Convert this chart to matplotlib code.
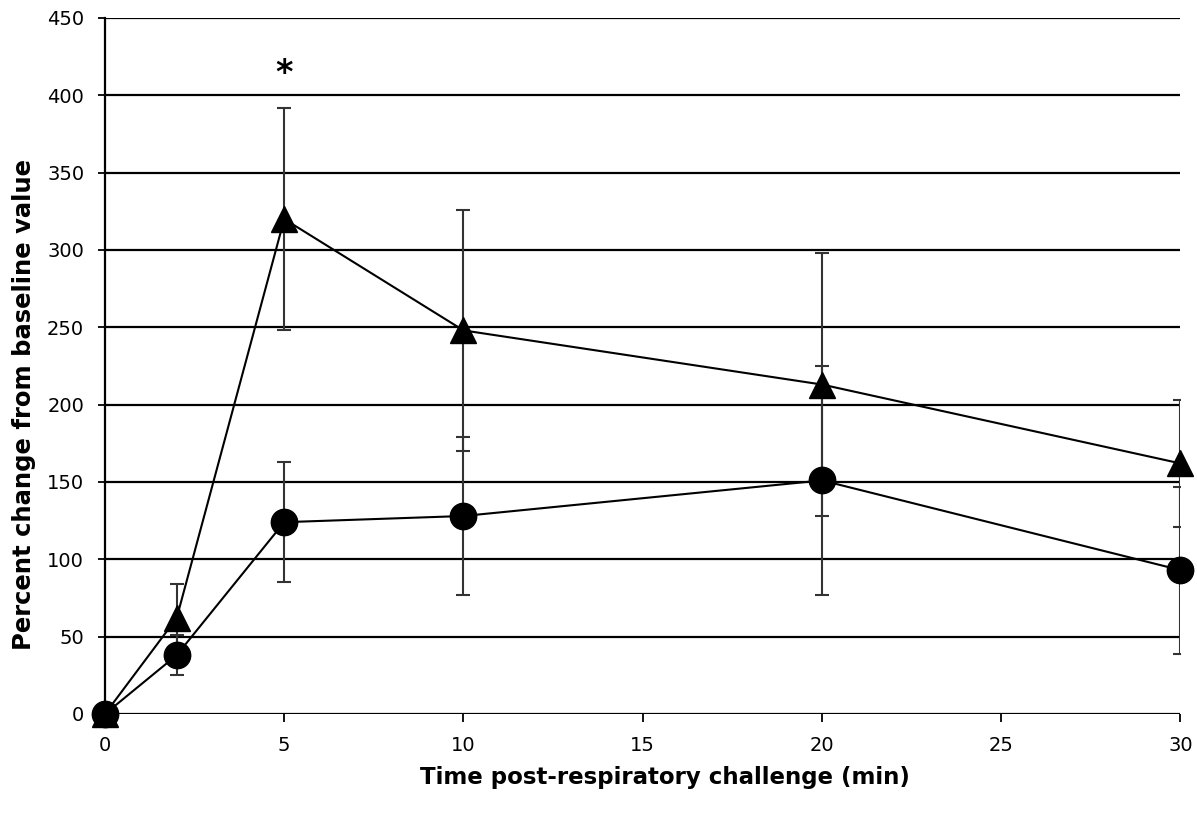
import numpy as np
import matplotlib
matplotlib.use("Agg")
import matplotlib.pyplot as plt

# data
time_min = [0, 2, 5, 10, 20, 30]
tri_mean = [0, 62, 320, 248, 213, 162]
tri_err = [0, 22, 72, 78, 85, 41]
circ_mean = [0, 38, 124, 128, 151, 93]
circ_err = [0, 13, 39, 51, 74, 54]
y_ticks = list(range(0, 451, 50))
x_ticks = [0, 5, 10, 15, 20, 25, 30]

fig = plt.figure(figsize=(11.97, 8.14), dpi=100)
ax = fig.add_axes([0.0877, 0.1229, 0.8985, 0.855])

for y in y_ticks:
    ax.axhline(y, color='black', lw=1.6, zorder=0)

ax.errorbar(time_min, tri_mean, yerr=tri_err, fmt='none', ecolor='#333333',
            elinewidth=1.5, capsize=5, capthick=1.5, zorder=2)
ax.errorbar(time_min, circ_mean, yerr=circ_err, fmt='none', ecolor='#333333',
            elinewidth=1.5, capsize=5, capthick=1.5, zorder=2)
ax.plot(time_min, tri_mean, color='black', lw=1.5, marker='^', ms=19,
        mfc='black', mec='black', zorder=3, clip_on=False)
ax.plot(time_min, circ_mean, color='black', lw=1.5, marker='o', ms=19,
        mfc='black', mec='black', zorder=3, clip_on=False)

ax.text(5, 414, '*', ha='center', va='center', fontsize=24, fontweight='bold')

ax.set_xlim(0, 30)
ax.set_ylim(0, 450)
ax.set_xticks(x_ticks)
ax.set_yticks(y_ticks)
for s in ['top', 'right', 'bottom']:
    ax.spines[s].set_visible(False)
ax.spines['left'].set_linewidth(1.6)
ax.tick_params(axis='y', direction='out', length=5, width=1.3,
               labelsize=14, pad=10)
ax.tick_params(axis='x', direction='out', length=6, width=1.3,
               labelsize=14, pad=10)

ax.set_xlabel('Time post-respiratory challenge (min)', fontsize=16.5,
              fontweight='bold')
ax.set_ylabel('Percent change from baseline value', fontsize=17.5,
              fontweight='bold')
ax.xaxis.set_label_coords(0.521, -0.075)
ax.yaxis.set_label_coords(-0.064, 0.444)

plt.savefig('out.png', dpi=100)
